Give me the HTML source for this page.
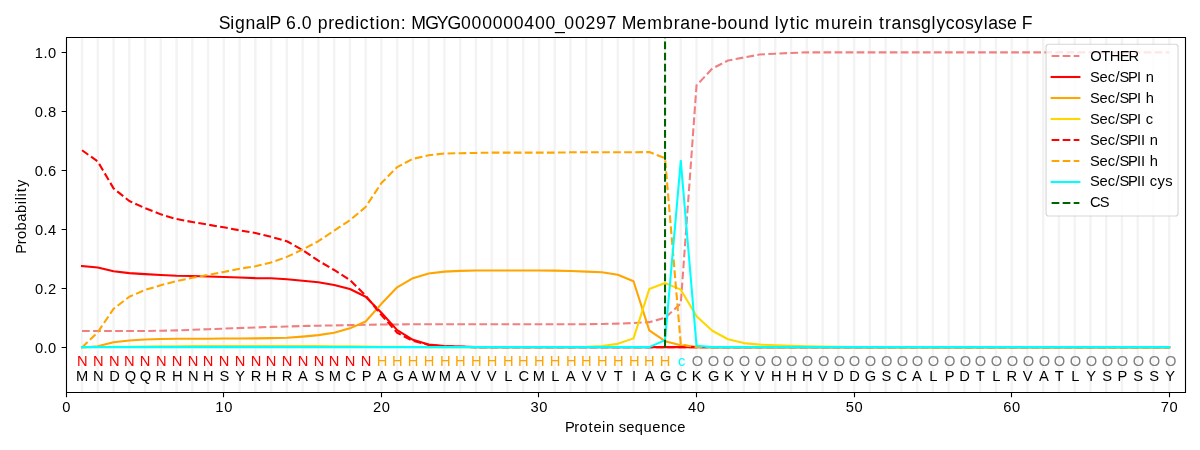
<!DOCTYPE html><html><head><meta charset="utf-8"><title>SignalP 6.0 prediction</title><style>html,body{margin:0;padding:0;background:#fff;width:1200px;height:450px;overflow:hidden}svg{display:block;will-change:transform}text{font-family:"Liberation Sans",sans-serif}</style></head><body>
<svg width="1200" height="450" viewBox="0 0 1200 450">
<rect x="0" y="0" width="1200" height="450" fill="#ffffff"/>
<defs><clipPath id="ax"><rect x="66.2778" y="37.3333" width="1118.7222" height="354.3889"/></clipPath></defs>
<path d="M82.03 38V392M97.79 38V392M113.55 38V392M129.30 38V392M145.06 38V392M160.82 38V392M176.57 38V392M192.33 38V392M208.09 38V392M223.84 38V392M239.60 38V392M255.36 38V392M271.11 38V392M286.87 38V392M302.63 38V392M318.38 38V392M334.14 38V392M349.90 38V392M365.65 38V392M381.41 38V392M397.17 38V392M412.92 38V392M428.68 38V392M444.44 38V392M460.19 38V392M475.95 38V392M491.71 38V392M507.46 38V392M523.22 38V392M538.98 38V392M554.73 38V392M570.49 38V392M586.25 38V392M602.00 38V392M617.76 38V392M633.52 38V392M649.27 38V392M665.03 38V392M680.79 38V392M696.54 38V392M712.30 38V392M728.06 38V392M743.81 38V392M759.57 38V392M775.33 38V392M791.08 38V392M806.84 38V392M822.60 38V392M838.35 38V392M854.11 38V392M869.87 38V392M885.62 38V392M901.38 38V392M917.14 38V392M932.89 38V392M948.65 38V392M964.41 38V392M980.16 38V392M995.92 38V392M1011.68 38V392M1027.43 38V392M1043.19 38V392M1058.95 38V392M1074.70 38V392M1090.46 38V392M1106.22 38V392M1121.97 38V392M1137.73 38V392M1153.49 38V392M1169.24 38V392" stroke="#f3f3f3" stroke-width="2.4" fill="none"/>
<g clip-path="url(#ax)">
<polyline points="82.03,331.00 97.79,331.00 113.55,331.00 129.30,331.00 145.06,331.00 160.82,330.71 176.57,330.41 192.33,329.82 208.09,329.23 223.84,328.64 239.60,328.05 255.36,327.46 271.11,326.87 286.87,326.57 302.63,325.98 318.38,325.69 334.14,325.39 349.90,325.10 365.65,324.80 381.41,324.51 397.17,324.51 412.92,324.21 428.68,324.21 444.44,324.21 460.19,324.21 475.95,324.21 491.71,324.21 507.46,324.21 523.22,324.21 538.98,324.21 554.73,324.21 570.49,324.21 586.25,324.21 602.00,323.92 617.76,323.62 633.52,323.03 649.27,322.14 665.03,317.86 680.79,303.54 696.54,85.29 712.30,68.58 728.06,60.49 743.81,57.53 759.57,54.58 775.33,53.69 791.08,52.96 806.84,52.37 822.60,52.37 838.35,52.37 854.11,52.37 869.87,52.37 885.62,52.37 901.38,52.37 917.14,52.37 932.89,52.37 948.65,52.37 964.41,52.37 980.16,52.37 995.92,52.37 1011.68,52.37 1027.43,52.37 1043.19,52.37 1058.95,52.37 1074.70,52.37 1090.46,52.37 1106.22,52.37 1121.97,52.37 1137.73,52.37 1153.49,52.37 1169.24,52.37" fill="none" stroke="#f08080" stroke-width="2.083" stroke-dasharray="7.708 3.333" stroke-linejoin="round" stroke-linecap="butt"/>
<polyline points="82.03,266.15 97.79,267.51 113.55,271.23 129.30,273.12 145.06,274.15 160.82,275.04 176.57,275.78 192.33,276.07 208.09,276.52 223.84,276.96 239.60,277.55 255.36,278.14 271.11,278.32 286.87,279.23 302.63,280.80 318.38,282.28 334.14,284.99 349.90,288.98 365.65,296.75 381.41,312.69 397.17,330.12 412.92,339.86 428.68,344.59 444.44,346.07 460.19,346.66 475.95,347.13 491.71,347.13 507.46,347.13 523.22,347.13 538.98,347.13 554.73,347.13 570.49,347.13 586.25,347.13 602.00,347.13 617.76,347.13 633.52,347.13 649.27,347.13 665.03,347.13 680.79,347.13 696.54,347.13 712.30,347.13 728.06,347.13 743.81,347.13 759.57,347.13 775.33,347.13 791.08,347.13 806.84,347.13 822.60,347.13 838.35,347.13 854.11,347.13 869.87,347.13 885.62,347.13 901.38,347.13 917.14,347.13 932.89,347.13 948.65,347.13 964.41,347.13 980.16,347.13 995.92,347.13 1011.68,347.13 1027.43,347.13 1043.19,347.13 1058.95,347.13 1074.70,347.13 1090.46,347.13 1106.22,347.13 1121.97,347.13 1137.73,347.13 1153.49,347.13 1169.24,347.13" fill="none" stroke="#ff0000" stroke-width="2.083" stroke-linejoin="round" stroke-linecap="square"/>
<polyline points="82.03,347.42 97.79,346.36 113.55,342.23 129.30,340.45 145.06,339.57 160.82,338.98 176.57,338.83 192.33,338.68 208.09,338.68 223.84,338.53 239.60,338.53 255.36,338.39 271.11,338.09 286.87,337.80 302.63,336.61 318.38,335.14 334.14,332.78 349.90,328.35 365.65,321.55 381.41,303.83 397.17,287.30 412.92,278.14 428.68,273.42 444.44,271.64 460.19,270.91 475.95,270.46 491.71,270.46 507.46,270.46 523.22,270.46 538.98,270.46 554.73,270.61 570.49,271.05 586.25,271.64 602.00,272.32 617.76,274.74 633.52,281.24 649.27,330.41 665.03,341.19 680.79,345.18 696.54,346.80 712.30,347.13 728.06,347.13 743.81,347.13 759.57,347.13 775.33,347.13 791.08,347.13 806.84,347.13 822.60,347.13 838.35,347.13 854.11,347.13 869.87,347.13 885.62,347.13 901.38,347.13 917.14,347.13 932.89,347.13 948.65,347.13 964.41,347.13 980.16,347.13 995.92,347.13 1011.68,347.13 1027.43,347.13 1043.19,347.13 1058.95,347.13 1074.70,347.13 1090.46,347.13 1106.22,347.13 1121.97,347.13 1137.73,347.13 1153.49,347.13 1169.24,347.13" fill="none" stroke="#ffa500" stroke-width="2.083" stroke-linejoin="round" stroke-linecap="square"/>
<polyline points="82.03,347.13 97.79,346.98 113.55,346.83 129.30,346.69 145.06,346.54 160.82,346.39 176.57,346.24 192.33,346.09 208.09,346.09 223.84,346.09 239.60,346.09 255.36,346.09 271.11,346.09 286.87,346.09 302.63,346.09 318.38,346.09 334.14,346.24 349.90,346.39 365.65,346.54 381.41,346.69 397.17,346.83 412.92,346.98 428.68,347.13 444.44,347.13 460.19,347.13 475.95,347.13 491.71,347.13 507.46,347.13 523.22,347.13 538.98,347.13 554.73,347.13 570.49,347.13 586.25,346.83 602.00,346.07 617.76,343.85 633.52,338.39 649.27,289.07 665.03,283.01 680.79,289.66 696.54,316.24 712.30,330.71 728.06,339.27 743.81,343.11 759.57,344.59 775.33,345.18 791.08,345.80 806.84,346.24 822.60,346.54 838.35,346.83 854.11,346.98 869.87,347.13 885.62,347.13 901.38,347.13 917.14,347.13 932.89,347.13 948.65,347.13 964.41,347.13 980.16,347.13 995.92,347.13 1011.68,347.13 1027.43,347.13 1043.19,347.13 1058.95,347.13 1074.70,347.13 1090.46,347.13 1106.22,347.13 1121.97,347.13 1137.73,347.13 1153.49,347.13 1169.24,347.13" fill="none" stroke="#ffd700" stroke-width="2.083" stroke-linejoin="round" stroke-linecap="square"/>
<polyline points="82.03,150.27 97.79,161.49 113.55,188.36 129.30,201.06 145.06,208.15 160.82,214.35 176.57,219.08 192.33,222.03 208.09,224.69 223.84,227.34 239.60,230.30 255.36,232.96 271.11,236.80 286.87,241.23 302.63,250.08 318.38,260.72 334.14,269.99 349.90,280.00 365.65,295.56 381.41,315.06 397.17,332.78 412.92,340.90 428.68,344.88 444.44,346.36 460.19,346.80 475.95,347.13 491.71,347.13 507.46,347.13 523.22,347.13 538.98,347.13 554.73,347.13 570.49,347.13 586.25,347.13 602.00,347.13 617.76,347.13 633.52,347.13 649.27,347.13 665.03,347.13 680.79,347.13 696.54,347.13 712.30,347.13 728.06,347.13 743.81,347.13 759.57,347.13 775.33,347.13 791.08,347.13 806.84,347.13 822.60,347.13 838.35,347.13 854.11,347.13 869.87,347.13 885.62,347.13 901.38,347.13 917.14,347.13 932.89,347.13 948.65,347.13 964.41,347.13 980.16,347.13 995.92,347.13 1011.68,347.13 1027.43,347.13 1043.19,347.13 1058.95,347.13 1074.70,347.13 1090.46,347.13 1106.22,347.13 1121.97,347.13 1137.73,347.13 1153.49,347.13 1169.24,347.13" fill="none" stroke="#ff0000" stroke-width="2.083" stroke-dasharray="7.708 3.333" stroke-linejoin="round" stroke-linecap="butt"/>
<polyline points="82.03,347.42 97.79,332.18 113.55,308.85 129.30,296.75 145.06,289.95 160.82,285.23 176.57,281.09 192.33,277.85 208.09,274.89 223.84,271.94 239.60,268.69 255.36,266.33 271.11,262.49 286.87,256.88 302.63,249.49 318.38,241.23 334.14,230.59 349.90,220.26 365.65,206.97 381.41,183.05 397.17,167.10 412.92,158.83 428.68,155.29 444.44,153.51 460.19,153.22 475.95,152.92 491.71,152.63 507.46,152.63 523.22,152.63 538.98,152.63 554.73,152.63 570.49,152.33 586.25,152.33 602.00,152.33 617.76,152.33 633.52,152.33 649.27,152.04 665.03,158.24 680.79,344.59 696.54,347.13 712.30,347.13 728.06,347.13 743.81,347.13 759.57,347.13 775.33,347.13 791.08,347.13 806.84,347.13 822.60,347.13 838.35,347.13 854.11,347.13 869.87,347.13 885.62,347.13 901.38,347.13 917.14,347.13 932.89,347.13 948.65,347.13 964.41,347.13 980.16,347.13 995.92,347.13 1011.68,347.13 1027.43,347.13 1043.19,347.13 1058.95,347.13 1074.70,347.13 1090.46,347.13 1106.22,347.13 1121.97,347.13 1137.73,347.13 1153.49,347.13 1169.24,347.13" fill="none" stroke="#ffa500" stroke-width="2.083" stroke-dasharray="7.708 3.333" stroke-linejoin="round" stroke-linecap="butt"/>
<polyline points="82.03,347.13 97.79,347.13 113.55,347.13 129.30,347.13 145.06,347.13 160.82,347.13 176.57,347.13 192.33,347.13 208.09,347.13 223.84,347.13 239.60,347.13 255.36,347.13 271.11,347.13 286.87,347.13 302.63,347.13 318.38,347.13 334.14,347.13 349.90,347.13 365.65,347.13 381.41,347.13 397.17,347.13 412.92,347.13 428.68,347.13 444.44,347.13 460.19,347.13 475.95,347.13 491.71,347.13 507.46,347.13 523.22,347.13 538.98,347.13 554.73,347.13 570.49,347.13 586.25,347.13 602.00,347.13 617.76,347.13 633.52,347.13 649.27,347.13 665.03,340.16 680.79,160.90 696.54,345.77 712.30,347.13 728.06,347.13 743.81,347.13 759.57,347.13 775.33,347.13 791.08,347.13 806.84,347.13 822.60,347.13 838.35,347.13 854.11,347.13 869.87,347.13 885.62,347.13 901.38,347.13 917.14,347.13 932.89,347.13 948.65,347.13 964.41,347.13 980.16,347.13 995.92,347.13 1011.68,347.13 1027.43,347.13 1043.19,347.13 1058.95,347.13 1074.70,347.13 1090.46,347.13 1106.22,347.13 1121.97,347.13 1137.73,347.13 1153.49,347.13 1169.24,347.13" fill="none" stroke="#00ffff" stroke-width="2.083" stroke-linejoin="round" stroke-linecap="square"/>
<line x1="665.03" y1="347.42" x2="665.03" y2="37.33" stroke="#006400" stroke-width="2.083" stroke-dasharray="7.708 3.333"/>
</g>
<text x="82.27" y="366.09" font-size="14.7" fill="#ff0000" text-anchor="middle">N</text>
<text x="82.01" y="380.86" font-size="14.7" fill="#000000" text-anchor="middle">M</text>
<text x="98.26" y="366.09" font-size="14.7" fill="#ff0000" text-anchor="middle">N</text>
<text x="98.23" y="380.86" font-size="14.7" fill="#000000" text-anchor="middle">N</text>
<text x="114.27" y="366.09" font-size="14.7" fill="#ff0000" text-anchor="middle">N</text>
<text x="114.54" y="380.86" font-size="14.7" fill="#000000" text-anchor="middle">D</text>
<text x="129.29" y="366.09" font-size="14.7" fill="#ff0000" text-anchor="middle">N</text>
<text x="130.44" y="380.86" font-size="14.7" fill="#000000" text-anchor="middle">Q</text>
<text x="145.05" y="366.09" font-size="14.7" fill="#ff0000" text-anchor="middle">N</text>
<text x="145.42" y="380.86" font-size="14.7" fill="#000000" text-anchor="middle">Q</text>
<text x="161.29" y="366.09" font-size="14.7" fill="#ff0000" text-anchor="middle">N</text>
<text x="160.92" y="380.86" font-size="14.7" fill="#000000" text-anchor="middle">R</text>
<text x="177.05" y="366.09" font-size="14.7" fill="#ff0000" text-anchor="middle">N</text>
<text x="177.23" y="380.86" font-size="14.7" fill="#000000" text-anchor="middle">H</text>
<text x="193.06" y="366.09" font-size="14.7" fill="#ff0000" text-anchor="middle">N</text>
<text x="193.26" y="380.86" font-size="14.7" fill="#000000" text-anchor="middle">N</text>
<text x="208.07" y="366.09" font-size="14.7" fill="#ff0000" text-anchor="middle">N</text>
<text x="208.22" y="380.86" font-size="14.7" fill="#000000" text-anchor="middle">H</text>
<text x="224.06" y="366.09" font-size="14.7" fill="#ff0000" text-anchor="middle">N</text>
<text x="224.36" y="380.86" font-size="14.7" fill="#000000" text-anchor="middle">S</text>
<text x="240.07" y="366.09" font-size="14.7" fill="#ff0000" text-anchor="middle">N</text>
<text x="240.07" y="380.86" font-size="14.7" fill="#000000" text-anchor="middle">Y</text>
<text x="256.09" y="366.09" font-size="14.7" fill="#ff0000" text-anchor="middle">N</text>
<text x="255.93" y="380.86" font-size="14.7" fill="#000000" text-anchor="middle">R</text>
<text x="271.10" y="366.09" font-size="14.7" fill="#ff0000" text-anchor="middle">N</text>
<text x="270.97" y="380.86" font-size="14.7" fill="#000000" text-anchor="middle">H</text>
<text x="287.09" y="366.09" font-size="14.7" fill="#ff0000" text-anchor="middle">N</text>
<text x="286.97" y="380.86" font-size="14.7" fill="#000000" text-anchor="middle">R</text>
<text x="303.10" y="366.09" font-size="14.7" fill="#ff0000" text-anchor="middle">N</text>
<text x="302.78" y="380.86" font-size="14.7" fill="#000000" text-anchor="middle">A</text>
<text x="319.12" y="366.09" font-size="14.7" fill="#ff0000" text-anchor="middle">N</text>
<text x="319.41" y="380.86" font-size="14.7" fill="#000000" text-anchor="middle">S</text>
<text x="334.13" y="366.09" font-size="14.7" fill="#ff0000" text-anchor="middle">N</text>
<text x="334.89" y="380.86" font-size="14.7" fill="#000000" text-anchor="middle">M</text>
<text x="350.12" y="366.09" font-size="14.7" fill="#ff0000" text-anchor="middle">N</text>
<text x="350.82" y="380.86" font-size="14.7" fill="#000000" text-anchor="middle">C</text>
<text x="366.13" y="366.09" font-size="14.7" fill="#ff0000" text-anchor="middle">N</text>
<text x="366.68" y="380.86" font-size="14.7" fill="#000000" text-anchor="middle">P</text>
<text x="382.11" y="366.09" font-size="14.7" fill="#ffa500" text-anchor="middle">H</text>
<text x="381.82" y="380.86" font-size="14.7" fill="#000000" text-anchor="middle">A</text>
<text x="397.18" y="366.09" font-size="14.7" fill="#ffa500" text-anchor="middle">H</text>
<text x="398.51" y="380.86" font-size="14.7" fill="#000000" text-anchor="middle">G</text>
<text x="413.04" y="366.09" font-size="14.7" fill="#ffa500" text-anchor="middle">H</text>
<text x="412.83" y="380.86" font-size="14.7" fill="#000000" text-anchor="middle">A</text>
<text x="429.11" y="366.09" font-size="14.7" fill="#ffa500" text-anchor="middle">H</text>
<text x="428.81" y="380.86" font-size="14.7" fill="#000000" text-anchor="middle">W</text>
<text x="445.20" y="366.09" font-size="14.7" fill="#ffa500" text-anchor="middle">H</text>
<text x="444.93" y="380.86" font-size="14.7" fill="#000000" text-anchor="middle">M</text>
<text x="460.21" y="366.09" font-size="14.7" fill="#ffa500" text-anchor="middle">H</text>
<text x="460.85" y="380.86" font-size="14.7" fill="#000000" text-anchor="middle">A</text>
<text x="476.28" y="366.09" font-size="14.7" fill="#ffa500" text-anchor="middle">H</text>
<text x="475.63" y="380.86" font-size="14.7" fill="#000000" text-anchor="middle">V</text>
<text x="492.14" y="366.09" font-size="14.7" fill="#ffa500" text-anchor="middle">H</text>
<text x="491.62" y="380.86" font-size="14.7" fill="#000000" text-anchor="middle">V</text>
<text x="508.23" y="366.09" font-size="14.7" fill="#ffa500" text-anchor="middle">H</text>
<text x="508.37" y="380.86" font-size="14.7" fill="#000000" text-anchor="middle">L</text>
<text x="523.23" y="366.09" font-size="14.7" fill="#ffa500" text-anchor="middle">H</text>
<text x="523.83" y="380.86" font-size="14.7" fill="#000000" text-anchor="middle">C</text>
<text x="539.30" y="366.09" font-size="14.7" fill="#ffa500" text-anchor="middle">H</text>
<text x="538.95" y="380.86" font-size="14.7" fill="#000000" text-anchor="middle">M</text>
<text x="555.17" y="366.09" font-size="14.7" fill="#ffa500" text-anchor="middle">H</text>
<text x="555.27" y="380.86" font-size="14.7" fill="#000000" text-anchor="middle">L</text>
<text x="571.26" y="366.09" font-size="14.7" fill="#ffa500" text-anchor="middle">H</text>
<text x="570.64" y="380.86" font-size="14.7" fill="#000000" text-anchor="middle">A</text>
<text x="586.26" y="366.09" font-size="14.7" fill="#ffa500" text-anchor="middle">H</text>
<text x="586.68" y="380.86" font-size="14.7" fill="#000000" text-anchor="middle">V</text>
<text x="602.34" y="366.09" font-size="14.7" fill="#ffa500" text-anchor="middle">H</text>
<text x="601.68" y="380.86" font-size="14.7" fill="#000000" text-anchor="middle">V</text>
<text x="618.19" y="366.09" font-size="14.7" fill="#ffa500" text-anchor="middle">H</text>
<text x="618.27" y="380.86" font-size="14.7" fill="#000000" text-anchor="middle">T</text>
<text x="634.27" y="366.09" font-size="14.7" fill="#ffa500" text-anchor="middle">H</text>
<text x="633.98" y="380.86" font-size="14.7" fill="#000000" text-anchor="middle">I</text>
<text x="649.28" y="366.09" font-size="14.7" fill="#ffa500" text-anchor="middle">H</text>
<text x="649.68" y="380.86" font-size="14.7" fill="#000000" text-anchor="middle">A</text>
<text x="665.04" y="366.09" font-size="14.7" fill="#ffa500" text-anchor="middle">H</text>
<text x="665.61" y="380.86" font-size="14.7" fill="#000000" text-anchor="middle">G</text>
<text x="681.72" y="366.09" font-size="14.7" fill="#00ffff" text-anchor="middle">c</text>
<text x="681.71" y="380.86" font-size="14.7" fill="#000000" text-anchor="middle">C</text>
<text x="697.57" y="366.09" font-size="14.7" fill="#808080" text-anchor="middle">O</text>
<text x="696.75" y="380.86" font-size="14.7" fill="#000000" text-anchor="middle">K</text>
<text x="713.35" y="366.09" font-size="14.7" fill="#808080" text-anchor="middle">O</text>
<text x="713.64" y="380.86" font-size="14.7" fill="#000000" text-anchor="middle">G</text>
<text x="728.58" y="366.09" font-size="14.7" fill="#808080" text-anchor="middle">O</text>
<text x="728.85" y="380.86" font-size="14.7" fill="#000000" text-anchor="middle">K</text>
<text x="744.52" y="366.09" font-size="14.7" fill="#808080" text-anchor="middle">O</text>
<text x="745.04" y="380.86" font-size="14.7" fill="#000000" text-anchor="middle">Y</text>
<text x="760.59" y="366.09" font-size="14.7" fill="#808080" text-anchor="middle">O</text>
<text x="759.73" y="380.86" font-size="14.7" fill="#000000" text-anchor="middle">V</text>
<text x="776.38" y="366.09" font-size="14.7" fill="#808080" text-anchor="middle">O</text>
<text x="776.19" y="380.86" font-size="14.7" fill="#000000" text-anchor="middle">H</text>
<text x="791.60" y="366.09" font-size="14.7" fill="#808080" text-anchor="middle">O</text>
<text x="791.21" y="380.86" font-size="14.7" fill="#000000" text-anchor="middle">H</text>
<text x="807.55" y="366.09" font-size="14.7" fill="#808080" text-anchor="middle">O</text>
<text x="807.24" y="380.86" font-size="14.7" fill="#000000" text-anchor="middle">H</text>
<text x="823.64" y="366.09" font-size="14.7" fill="#808080" text-anchor="middle">O</text>
<text x="822.75" y="380.86" font-size="14.7" fill="#000000" text-anchor="middle">V</text>
<text x="839.38" y="366.09" font-size="14.7" fill="#808080" text-anchor="middle">O</text>
<text x="838.55" y="380.86" font-size="14.7" fill="#000000" text-anchor="middle">D</text>
<text x="854.47" y="366.09" font-size="14.7" fill="#808080" text-anchor="middle">O</text>
<text x="854.53" y="380.86" font-size="14.7" fill="#000000" text-anchor="middle">D</text>
<text x="870.39" y="366.09" font-size="14.7" fill="#808080" text-anchor="middle">O</text>
<text x="870.45" y="380.86" font-size="14.7" fill="#000000" text-anchor="middle">G</text>
<text x="886.66" y="366.09" font-size="14.7" fill="#808080" text-anchor="middle">O</text>
<text x="886.37" y="380.86" font-size="14.7" fill="#000000" text-anchor="middle">S</text>
<text x="902.41" y="366.09" font-size="14.7" fill="#808080" text-anchor="middle">O</text>
<text x="901.77" y="380.86" font-size="14.7" fill="#000000" text-anchor="middle">C</text>
<text x="917.50" y="366.09" font-size="14.7" fill="#808080" text-anchor="middle">O</text>
<text x="916.79" y="380.86" font-size="14.7" fill="#000000" text-anchor="middle">A</text>
<text x="933.41" y="366.09" font-size="14.7" fill="#808080" text-anchor="middle">O</text>
<text x="933.22" y="380.86" font-size="14.7" fill="#000000" text-anchor="middle">L</text>
<text x="949.69" y="366.09" font-size="14.7" fill="#808080" text-anchor="middle">O</text>
<text x="949.68" y="380.86" font-size="14.7" fill="#000000" text-anchor="middle">P</text>
<text x="965.43" y="366.09" font-size="14.7" fill="#808080" text-anchor="middle">O</text>
<text x="964.60" y="380.86" font-size="14.7" fill="#000000" text-anchor="middle">D</text>
<text x="980.52" y="366.09" font-size="14.7" fill="#808080" text-anchor="middle">O</text>
<text x="980.26" y="380.86" font-size="14.7" fill="#000000" text-anchor="middle">T</text>
<text x="996.44" y="366.09" font-size="14.7" fill="#808080" text-anchor="middle">O</text>
<text x="996.24" y="380.86" font-size="14.7" fill="#000000" text-anchor="middle">L</text>
<text x="1012.39" y="366.09" font-size="14.7" fill="#808080" text-anchor="middle">O</text>
<text x="1011.76" y="380.86" font-size="14.7" fill="#000000" text-anchor="middle">R</text>
<text x="1028.46" y="366.09" font-size="14.7" fill="#808080" text-anchor="middle">O</text>
<text x="1027.63" y="380.86" font-size="14.7" fill="#000000" text-anchor="middle">V</text>
<text x="1044.55" y="366.09" font-size="14.7" fill="#808080" text-anchor="middle">O</text>
<text x="1043.84" y="380.86" font-size="14.7" fill="#000000" text-anchor="middle">A</text>
<text x="1059.47" y="366.09" font-size="14.7" fill="#808080" text-anchor="middle">O</text>
<text x="1059.25" y="380.86" font-size="14.7" fill="#000000" text-anchor="middle">T</text>
<text x="1075.41" y="366.09" font-size="14.7" fill="#808080" text-anchor="middle">O</text>
<text x="1075.38" y="380.86" font-size="14.7" fill="#000000" text-anchor="middle">L</text>
<text x="1091.49" y="366.09" font-size="14.7" fill="#808080" text-anchor="middle">O</text>
<text x="1091.23" y="380.86" font-size="14.7" fill="#000000" text-anchor="middle">Y</text>
<text x="1107.57" y="366.09" font-size="14.7" fill="#808080" text-anchor="middle">O</text>
<text x="1107.24" y="380.86" font-size="14.7" fill="#000000" text-anchor="middle">S</text>
<text x="1122.49" y="366.09" font-size="14.7" fill="#808080" text-anchor="middle">O</text>
<text x="1122.48" y="380.86" font-size="14.7" fill="#000000" text-anchor="middle">P</text>
<text x="1138.44" y="366.09" font-size="14.7" fill="#808080" text-anchor="middle">O</text>
<text x="1138.22" y="380.86" font-size="14.7" fill="#000000" text-anchor="middle">S</text>
<text x="1154.51" y="366.09" font-size="14.7" fill="#808080" text-anchor="middle">O</text>
<text x="1154.26" y="380.86" font-size="14.7" fill="#000000" text-anchor="middle">S</text>
<text x="1170.62" y="366.09" font-size="14.7" fill="#808080" text-anchor="middle">O</text>
<text x="1170.26" y="380.86" font-size="14.7" fill="#000000" text-anchor="middle">Y</text>
<path d="M66.5 37.5V392.5H1185.5V37.5Z" fill="none" stroke="#000" stroke-width="1.111" stroke-linecap="square"/>
<path d="M66.5 392.5V397.36M223.5 392.5V397.36M381.5 392.5V397.36M538.5 392.5V397.36M696.5 392.5V397.36M854.5 392.5V397.36M1011.5 392.5V397.36M1169.5 392.5V397.36M66.5 347.5H61.64M66.5 288.5H61.64M66.5 229.5H61.64M66.5 170.5H61.64M66.5 111.5H61.64M66.5 52.5H61.64" stroke="#000" stroke-width="1.111" fill="none"/>
<text x="62.19" y="412.00" font-size="14.7" fill="#000">0</text>
<text x="215.35 224.16" y="412.00" font-size="14.7" fill="#000">10</text>
<text x="372.95 381.70" y="412.00" font-size="14.7" fill="#000">20</text>
<text x="530.52 539.26" y="412.00" font-size="14.7" fill="#000">30</text>
<text x="688.08 696.83" y="412.00" font-size="14.7" fill="#000">40</text>
<text x="845.65 854.40" y="412.00" font-size="14.7" fill="#000">50</text>
<text x="1003.19 1011.99" y="412.00" font-size="14.7" fill="#000">60</text>
<text x="1160.78 1169.53" y="412.00" font-size="14.7" fill="#000">70</text>
<text x="34.97 43.57 48.09" y="353.12" font-size="14.7" fill="#000">0.0</text>
<text x="34.97 43.57 48.09" y="294.06" font-size="14.7" fill="#000">0.2</text>
<text x="34.97 43.57 48.09" y="234.99" font-size="14.7" fill="#000">0.4</text>
<text x="34.87 43.51 48.06" y="175.93" font-size="14.7" fill="#000">0.6</text>
<text x="34.87 43.51 48.06" y="116.86" font-size="14.7" fill="#000">0.8</text>
<text x="34.87 43.51 48.06" y="57.80" font-size="14.7" fill="#000">1.0</text>
<text x="565.04 574.27 579.46 588.46 593.39 602.03 605.89 614.52 618.70 626.16 634.81 643.60 652.25 660.90 669.51 677.16" y="432.00" font-size="14.7" fill="#000">Protein sequence</text>
<text x="-37.63 -28.34 -23.09 -14.39 -5.68 3.04 11.86 15.74 19.62 23.89 29.13" y="0.00" font-size="14.7" fill="#000" transform="translate(26,216.03) rotate(-90)">Probability</text>
<text x="218.78 230.27 234.90 245.43 255.77 266.09 269.48 280.55 286.01 296.38 301.84 312.20 317.66 328.30 334.47 344.84 355.35 359.77 369.54 375.59 380.03 390.36 400.86 406.29 411.20 425.27 436.87 447.39 461.04 471.60 482.15 492.71 503.26 513.82 524.37 534.93 545.49 554.91 564.34 574.89 585.45 596.00 606.56 616.92 621.83 636.52 647.27 663.05 673.69 680.22 690.56 700.92 710.98 717.28 727.62 737.95 748.47 758.99 769.34 774.77 779.54 789.66 795.70 800.12 809.28 815.11 830.88 841.51 847.69 858.04 862.66 873.00 878.89 885.07 891.60 901.94 912.01 921.11 931.61 936.38 945.85 954.99 964.88 974.12 983.77 988.22 998.12 1007.05 1017.24 1021.72" y="29.00" font-size="17.64" fill="#000">SignalP 6.0 prediction: MGYG000000400_00297 Membrane-bound lytic murein transglycosylase F</text>
<rect x="1046.06" y="44.28" width="132.00" height="171.72" rx="2.78" ry="2.78" fill="#ffffff" fill-opacity="0.8" stroke="#cccccc" stroke-opacity="0.8" stroke-width="1.111"/>
<line x1="1051.61" y1="56" x2="1079.39" y2="56" stroke="#f08080" stroke-width="2.083" stroke-dasharray="7.708 3.333"/>
<text x="1090.24 1101.14 1109.75 1119.73 1128.50" y="60.83" font-size="14.7" fill="#000">OTHER</text>
<line x1="1051.61" y1="77" x2="1079.39" y2="77" stroke="#ff0000" stroke-width="2.083" stroke-linecap="square"/>
<text x="1089.98 1099.42 1107.86 1115.61 1119.45 1127.99 1137.04 1141.27 1145.79" y="81.77" font-size="14.7" fill="#000">Sec/SPI n</text>
<line x1="1051.61" y1="98" x2="1079.39" y2="98" stroke="#ffa500" stroke-width="2.083" stroke-linecap="square"/>
<text x="1089.98 1099.42 1107.86 1115.61 1119.45 1127.99 1137.04 1141.27 1145.79" y="102.72" font-size="14.7" fill="#000">Sec/SPI h</text>
<line x1="1051.61" y1="119" x2="1079.39" y2="119" stroke="#ffd700" stroke-width="2.083" stroke-linecap="square"/>
<text x="1089.98 1099.42 1107.87 1115.62 1119.47 1128.01 1137.07 1141.30 1145.65" y="123.66" font-size="14.7" fill="#000">Sec/SPI c</text>
<line x1="1051.61" y1="140" x2="1079.39" y2="140" stroke="#ff0000" stroke-width="2.083" stroke-dasharray="7.708 3.333"/>
<text x="1089.98 1099.40 1107.84 1115.58 1119.42 1127.95 1136.99 1141.06 1145.28 1149.79" y="144.61" font-size="14.7" fill="#000">Sec/SPII n</text>
<line x1="1051.61" y1="161" x2="1079.39" y2="161" stroke="#ffa500" stroke-width="2.083" stroke-dasharray="7.708 3.333"/>
<text x="1089.98 1099.40 1107.84 1115.58 1119.42 1127.95 1136.99 1141.06 1145.28 1149.79" y="165.55" font-size="14.7" fill="#000">Sec/SPII h</text>
<line x1="1051.61" y1="182" x2="1079.39" y2="182" stroke="#00ffff" stroke-width="2.083" stroke-linecap="square"/>
<text x="1089.98 1099.41 1107.86 1115.61 1119.45 1127.99 1137.04 1141.10 1145.33 1149.68 1157.56 1165.23" y="186.49" font-size="14.7" fill="#000">Sec/SPII cys</text>
<line x1="1051.61" y1="203" x2="1079.39" y2="203" stroke="#006400" stroke-width="2.083" stroke-dasharray="7.708 3.333"/>
<text x="1090.04 1099.69" y="207.44" font-size="14.7" fill="#000">CS</text>
</svg></body></html>
